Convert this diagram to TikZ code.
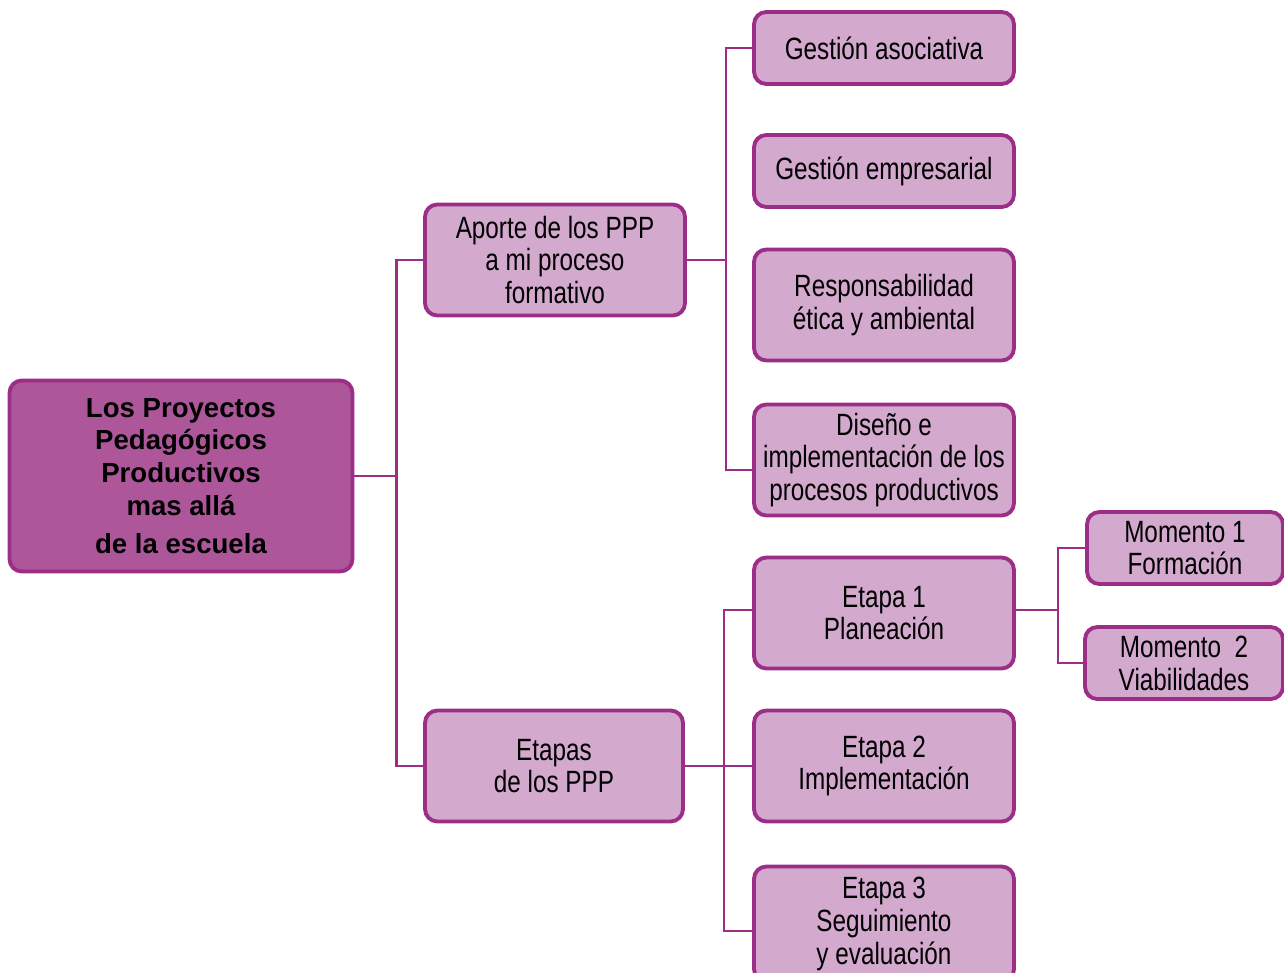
\documentclass[tikz,border=0pt]{standalone}
\usepackage{fontspec}
\setmainfont{Liberation Sans}
\newfontfamily\narrowfont[FakeStretch=0.79]{Liberation Sans}
\definecolor{ppborder}{HTML}{9C2E88}
\definecolor{ppfill}{HTML}{D3A9CE}
\definecolor{ppmain}{HTML}{AD5699}

\begin{document}
\begin{tikzpicture}[x=0.02cm, y=-0.02cm,
    box/.style={draw=ppborder, fill=ppfill, line width=2.2pt, rounded corners=7pt,
        minimum width=5.2cm, minimum height=2.22cm, align=center, inner sep=2pt,
        font=\narrowfont\fontsize{17.5}{18.7}\selectfont},
    smallbox/.style={box, minimum height=1.44cm},
    link/.style={draw=ppborder, line width=1.6pt}]
    \useasboundingbox (0,0) rectangle (1284,973);

    % Root
    \node[box, fill=ppmain, minimum width=6.86cm, minimum height=3.82cm,
        font=\bfseries\fontsize{15.7}{18.7}\selectfont] (main) at (181,476)
        {Los Proyectos\\Pedagógicos\\Productivos\\mas allá\\[3pt]de la escuela};

    % Second level
    \node[box] (aporte) at (555,260) {Aporte de los PPP\\a mi proceso\\formativo};
    \node[box, minimum width=5.16cm] (etapas) at (554,766) {Etapas\\de los PPP};

    % Aporte branch
    \node[smallbox] (asociativa) at (884,48) {Gestión asociativa};
    \node[smallbox] (empresarial) at (884,171) {Gestión empresarial};
    \node[box] (etica) at (884,305) {Responsabilidad\\ética y ambiental};
    \node[box] (diseno) at (884,460) {Diseño e\\implementación de los\\procesos productivos};

    % Etapas branch
    \node[box] (etapa1) at (884,613) {Etapa 1\\Planeación};
    \node[box] (etapa2) at (884,766) {Etapa 2\\Implementación};
    \node[box, minimum height=2.3cm] (etapa3) at (884,924) {Etapa 3\\Seguimiento\\y evaluación};

    % Momentos
    \node[smallbox, minimum width=3.92cm] (momento1) at (1185,548) {Momento 1\\Formación};
    \node[smallbox, minimum width=3.96cm] (momento2) at (1184,663) {Momento\ \ 2\\Viabilidades};

    % Connectors
    \draw[link] (main.east) -- ++(42,0) coordinate (busA);
    \draw[link] (busA) |- (aporte.west);
    \draw[link] (busA) |- (etapas.west);

    \draw[link] (aporte.east) -- ++(39,0) coordinate (busB);
    \draw[link] (busB) |- (asociativa.west);
    \draw[link] (busB) |- ([yshift=-0.2cm]diseno.west);

    \draw[link] (etapas.east) -- (etapa2.west);
    \coordinate (busC) at (724,766);
    \draw[link] (busC) |- ([yshift=0.06cm]etapa1.west);
    \draw[link] (busC) |- ([yshift=-0.14cm]etapa3.west);

    \draw[link] ([yshift=0.06cm]etapa1.east) -- ++(42,0) coordinate (busD);
    \draw[link] (busD) |- (momento1.west);
    \draw[link] (busD) |- (momento2.west);
\end{tikzpicture}
\end{document}
